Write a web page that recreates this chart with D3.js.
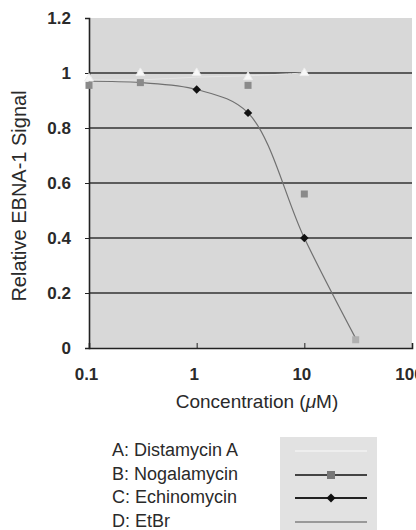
<!DOCTYPE html>
<meta charset="utf-8">
<style>
body { margin: 0; background: #fff; }
text { font-family: "Liberation Sans", Arial, sans-serif; fill: #2a2a2a; }
.tick text { font-size: 17px; font-weight: bold; fill: #2a2a2a; }
</style>
<svg width="416" height="530"></svg>
<script src="https://cdn.jsdelivr.net/npm/d3@7"></script>
<script>

// concentrations (uM) and relative EBNA-1 signal per compound
var concentrations = [0.1, 0.3, 1, 3, 10, 30];
var distamycin  = [0.98, 1.0, 1.0, 0.985, 1.0, null];
var nogalamycin = [0.955, 0.965, null, 0.955, 0.56, 0.03];
var echinomycin = [0.97, 0.965, 0.94, 0.855, 0.40, 0.035];
var etbr        = [0.975, 0.975, 0.985, 0.99, 1.0, null];

var legendLabels = ["A: Distamycin A", "B: Nogalamycin", "C: Echinomycin", "D: EtBr"];
var yTicks = [0, 0.2, 0.4, 0.6, 0.8, 1, 1.2];
var xTicks = [0.1, 1, 10, 100];

var svg = d3.select("svg");

var x = d3.scaleLog().domain([0.1, 100]).range([89, 412]);
var y = d3.scaleLinear().domain([0, 1.2]).range([348, 18]);

// plot background
svg.append("rect")
    .attr("x", x(0.1)).attr("y", y(1.2))
    .attr("width", x(100) - x(0.1)).attr("height", y(0) - y(1.2))
    .attr("fill", "#d8d8d8");

// gridlines
svg.append("g").selectAll("line")
    .data(yTicks.filter(function(d) { return d > 0 && d < 1.2; }))
    .enter().append("line")
      .attr("x1", x(0.1)).attr("x2", x(100))
      .attr("y1", function(d) { return y(d); })
      .attr("y2", function(d) { return y(d); })
      .attr("stroke", "#333").attr("stroke-width", 1.6);

// axes
var yAxis = d3.axisLeft(y).tickValues(yTicks).tickSize(4).tickPadding(14)
    .tickFormat(function(d) { return d3.format("~g")(d); });
var gy = svg.append("g").attr("transform", "translate(" + x(0.1) + ",0)").call(yAxis);
gy.select(".domain").attr("stroke", "#222").attr("stroke-width", 1.6);
gy.selectAll(".tick line").attr("stroke", "#222");

var xAxis = d3.axisBottom(x).tickValues(xTicks).tickSize(-5).tickPadding(20)
    .tickFormat(function(d) { return d3.format("~g")(d); });
var gx = svg.append("g").attr("transform", "translate(0," + y(0) + ")").call(xAxis);
gx.select(".domain").attr("stroke", "#222").attr("stroke-width", 1.6);
gx.selectAll(".tick line").attr("stroke", "#222");
gx.selectAll(".tick text").attr("dx", -3);

// axis titles
svg.append("text")
    .attr("transform", "translate(26,196) rotate(-90)")
    .attr("text-anchor", "middle")
    .style("font-size", "20px")
    .text("Relative EBNA-1 Signal");

svg.append("text")
    .attr("x", 257).attr("y", 408)
    .attr("text-anchor", "middle")
    .style("font-size", "19px")
    .html("Concentration (<tspan font-style='italic'>\u03bc</tspan>M)");

function pts(vals) {
  return concentrations.map(function(c, i) { return [c, vals[i]]; })
    .filter(function(p) { return p[1] != null; });
}

var line = d3.line()
    .x(function(d) { return x(d[0]); })
    .y(function(d) { return y(d[1]); })
    .curve(d3.curveCatmullRom.alpha(0.5));

// faint EtBr line and the main Echinomycin curve
svg.append("path").datum(pts(etbr)).attr("d", line)
    .attr("fill", "none").attr("stroke", "#e6e6e6").attr("stroke-width", 1);
svg.append("path").datum(pts(echinomycin)).attr("d", line)
    .attr("fill", "none").attr("stroke", "#707070").attr("stroke-width", 1.2);

// markers
svg.append("g").selectAll("path")
    .data(pts(distamycin)).enter().append("path")
      .attr("d", d3.symbol().type(d3.symbolTriangle).size(34))
      .attr("transform", function(d) { return "translate(" + x(d[0]) + "," + y(d[1]) + ")"; })
      .attr("fill", "#f8f8f8").attr("stroke", "#eeeeee");

svg.append("g").selectAll("rect")
    .data(pts(nogalamycin)).enter().append("rect")
      .attr("x", function(d) { return x(d[0]) - 3.5; })
      .attr("y", function(d) { return y(d[1]) - 3.5; })
      .attr("width", 7).attr("height", 7)
      .attr("fill", function(d) { return d[1] < 0.1 ? "#b0b0b0" : "#8a8a8a"; });

var diamond = d3.symbol().type(d3.symbolSquare).size(36);
svg.append("g").selectAll("path")
    .data(pts(echinomycin).filter(function(d) { return d[0] >= 1 && d[0] <= 10; }))
    .enter().append("path")
      .attr("d", diamond)
      .attr("transform", function(d) { return "translate(" + x(d[0]) + "," + y(d[1]) + ") rotate(45)"; })
      .attr("fill", "#111");

// legend
var lg = svg.append("g");
lg.append("rect").attr("x", 280).attr("y", 437).attr("width", 97).attr("height", 93)
    .attr("fill", "#e2e2e2");
var rowY = [456, 480, 503, 527];
lg.selectAll("text.lab").data(legendLabels).enter().append("text")
    .attr("class", "lab")
    .attr("x", 112).attr("y", function(d, i) { return rowY[i]; })
    .style("font-size", "18px")
    .text(function(d) { return d; });

var swatchColor = ["#eeeeee", "#444", "#222", "#999"];
lg.selectAll("line").data(swatchColor).enter().append("line")
    .attr("x1", 295).attr("x2", 367)
    .attr("y1", function(d, i) { return rowY[i] - 5; })
    .attr("y2", function(d, i) { return rowY[i] - 5; })
    .attr("stroke", function(d) { return d; }).attr("stroke-width", 2);
lg.append("rect").attr("x", 327).attr("y", rowY[1] - 9).attr("width", 8).attr("height", 8)
    .attr("fill", "#777");
lg.append("path").attr("d", d3.symbol().type(d3.symbolSquare).size(40))
    .attr("transform", "translate(331," + (rowY[2] - 5) + ") rotate(45)").attr("fill", "#111");

</script>
